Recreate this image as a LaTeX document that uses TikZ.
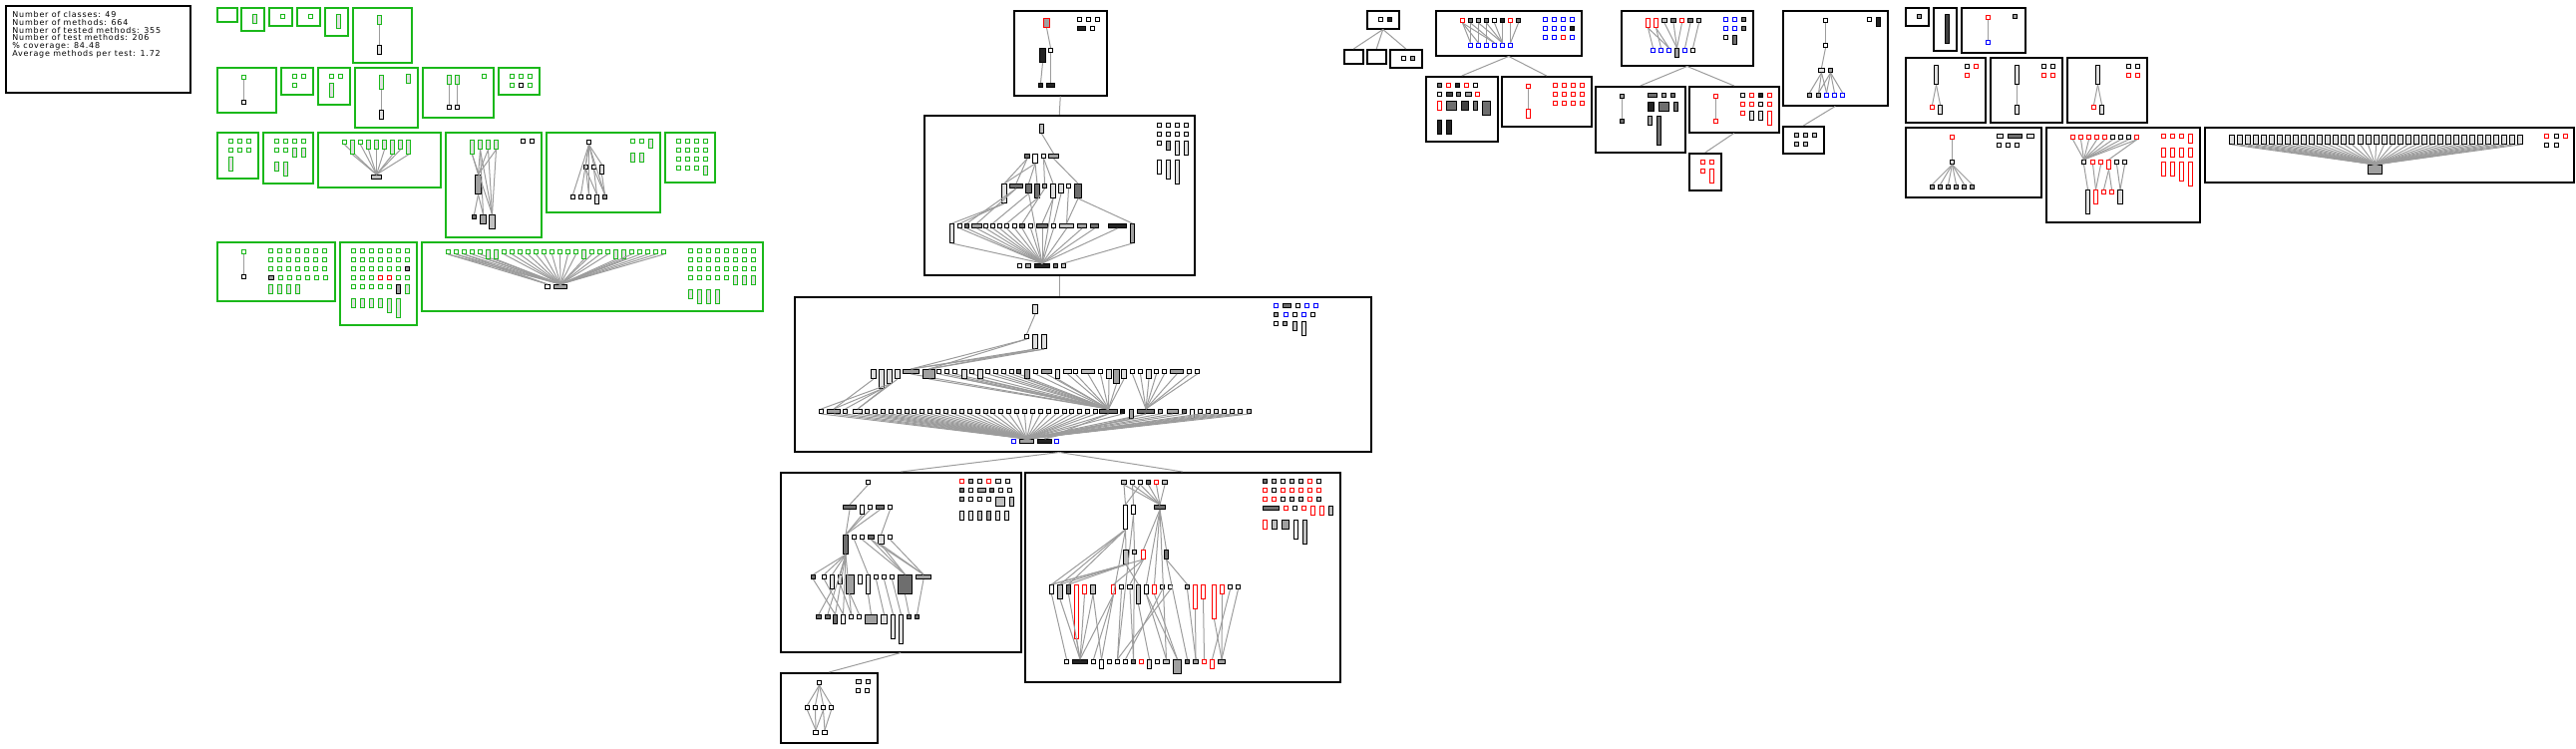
\documentclass[tikz,border=0pt]{standalone}
\usepackage{fontspec}
\newfontfamily\statfont[LetterSpace=10]{DejaVu Sans}
\usetikzlibrary{positioning}
% class fills
\definecolor{cL}{HTML}{E0E0E0}
\definecolor{cG}{HTML}{C0C0C0}
\definecolor{cM}{HTML}{A0A0A0}
\definecolor{cD}{HTML}{6E6E6E}
\definecolor{cN}{HTML}{404040}
\definecolor{cK}{HTML}{232323}
\colorlet{cW}{white}
% borders
\definecolor{bG}{HTML}{1AB81A}
\definecolor{bR}{HTML}{FF0000}
\definecolor{bB}{HTML}{0000FF}
\colorlet{bK}{black}
\definecolor{depGrey}{HTML}{9C9C9C}

\tikzset{
  pkg/.style={draw=black, line width=0.75pt, inner sep=0pt, anchor=north west},
  cls/.style={draw=black, line width=0.5pt, fill=white, inner sep=0pt, anchor=north west},
  gc/.style={draw=bG},
  gl/.style={draw=bG, fill=cL},
  rc/.style={draw=bR},
  bc/.style={draw=bB},
  dep/.style={draw=depGrey, line width=0.5pt},
  stat/.style={anchor=north west, inner sep=0pt, align=left,
    font=\statfont\fontsize{4}{3.9}\selectfont},
}
% package frame: name, x1, y1, x2, y2 (pixels, y down)
\newcommand{\pkgbox}[6][]{\node[pkg,#1,minimum width={(#5-#3)*0.5pt},
  minimum height={(#6-#4)*0.5pt}] (#2) at (#3,#4) {};}
% class box: name, x, y, width, height
\newcommand{\clsbox}[6][]{\node[cls,#1,minimum width={#5*0.5pt},
  minimum height={#6*0.5pt}] (#2) at (#3,#4) {};}
\newcommand{\usedep}[2]{\draw[dep] (#1.south) -- (#2.north);}

\begin{document}
\begin{tikzpicture}[x=0.5pt,y=-0.5pt]
\useasboundingbox (0,0) rectangle (2583,750);

% summary
\pkgbox{stats}{5}{5}{190}{92}
\node[stat] (statlines) at (12,11) {Number of classes: 49\\Number of methods: 664\\
  Number of tested methods: 355\\Number of test methods: 206\\
  \% coverage: 84.48\\Average methods per test: 1.72};

% ---------------- green packages, row 1
\pkgbox[gc]{gA}{217}{7}{237}{21}
\pkgbox[gc]{gB}{241}{7}{264}{30}
\clsbox[gl]{gB1}{253}{14}{4}{9}
\pkgbox[gc]{gC}{269}{7}{292}{25}
\clsbox[gc]{gC1}{281}{14}{4}{4}
\pkgbox[gc]{gD}{297}{7}{320}{25}
\clsbox[gc]{gD1}{309}{14}{4}{4}
\pkgbox[gc]{gE}{325}{7}{348}{35}
\clsbox[gl]{gE1}{337}{14}{4}{14}
\pkgbox[gc]{gF}{353}{7}{412}{62}
\clsbox[gl]{gF1}{378}{15}{4}{9}
\clsbox[fill=cL]{gF2}{378}{45}{4}{9}
\usedep{gF1}{gF2}

% ---------------- green packages, row 2
\pkgbox[gc]{gG}{217}{67}{276}{112}
\clsbox[gc]{gG1}{242}{75}{4}{4}
\clsbox{gG2}{242}{100}{4}{4}
\usedep{gG1}{gG2}
\pkgbox[gc]{gH}{281}{67}{313}{94}
\clsbox[gc]{gH1}{293}{74}{4}{4}
\clsbox[gc]{gH2}{302}{74}{4}{4}
\clsbox[gc]{gH3}{293}{83}{4}{4}
\pkgbox[gc]{gI}{318}{67}{350}{104}
\clsbox[gc]{gI1}{330}{74}{4}{4}
\clsbox[gc]{gI2}{339}{74}{4}{4}
\clsbox[gl]{gI3}{330}{83}{4}{14}
\pkgbox[gc]{gJ}{355}{67}{418}{127}
\clsbox[gl]{gJ1}{380}{75}{4}{14}
\clsbox[fill=cL]{gJ2}{380}{110}{4}{9}
\clsbox[gl]{gJ3}{407}{74}{4}{9}
\usedep{gJ1}{gJ2}
\pkgbox[gc]{gK}{423}{67}{494}{117}
\clsbox[gl]{gK1}{448}{75}{4}{9}
\clsbox[gl]{gK2}{456}{75}{4}{9}
\clsbox{gK3}{448}{105}{4}{4}
\clsbox{gK4}{456}{105}{4}{4}
\clsbox[gc]{gK5}{483}{74}{4}{4}
\usedep{gK1}{gK3} \usedep{gK2}{gK4}
\pkgbox[gc]{gL}{499}{67}{540}{94}
\foreach \x in {511,520,529} {\clsbox[gc]{gLa\x}{\x}{74}{4}{4}}
\clsbox[gc]{gL1}{511}{83}{4}{4}
\clsbox{gL2}{520}{83}{4}{4}
\clsbox[gc]{gL3}{529}{83}{4}{4}

% ---------------- green packages, row 3
\pkgbox[gc]{gM}{217}{132}{258}{178}
\foreach \y in {139,148} \foreach \x in {229,238,247} {\clsbox[gc]{gM\x\y}{\x}{\y}{4}{4}}
\clsbox[gl]{gM1}{229}{157}{4}{14}
\pkgbox[gc]{gN}{263}{132}{313}{183}
\foreach \x in {275,284,293,302} {\clsbox[gc]{gNa\x}{\x}{139}{4}{4}}
\clsbox[gc]{gN1}{275}{148}{4}{4}
\clsbox[gc]{gN2}{284}{148}{4}{4}
\clsbox[gl]{gN3}{293}{148}{4}{9}
\clsbox[gl]{gN4}{302}{148}{4}{9}
\clsbox[gl]{gN5}{275}{162}{4}{9}
\clsbox[gl]{gN6}{284}{162}{4}{14}
\pkgbox[gc]{gO}{318}{132}{441}{187}
\clsbox[fill=cG]{gOb}{372}{175}{10}{4}
\foreach \x/\h/\f [count=\i] in {343/4/cW,351/14/cL,359/4/cW,367/9/cL,375/9/cL,383/9/cL,391/14/cL,399/9/cL,407/14/cL}
  {\clsbox[gc,fill=\f]{gO\i}{\x}{140}{4}{\h} \usedep{gO\i}{gOb}}
\pkgbox[gc]{gP}{446}{132}{542}{237}
\clsbox[gl]{gP1}{471}{140}{4}{14}
\clsbox[gl]{gP2}{479}{140}{4}{9}
\clsbox[gl]{gP3}{487}{140}{4}{9}
\clsbox[gl]{gP4}{495}{140}{4}{9}
\clsbox{gP5}{522}{139}{4}{4}
\clsbox{gP6}{531}{139}{4}{4}
\clsbox[fill=cM]{gPm}{476}{175}{6}{19}
\clsbox[fill=cD]{gPa}{473}{215}{4}{4}
\clsbox[fill=cM]{gPb}{481}{215}{6}{9}
\clsbox[fill=cG]{gPc}{490}{215}{6}{14}
\foreach \t in {gP1,gP2,gP3,gP4} {\usedep{\t}{gPm} \usedep{\t}{gPc}}
\usedep{gP2}{gPb} \usedep{gPm}{gPa} \usedep{gPm}{gPb}
\pkgbox[gc]{gQ}{547}{132}{661}{212}
\clsbox{gQt}{588}{140}{4}{4}
\clsbox[fill=cL]{gQ1}{585}{165}{4}{4}
\clsbox[fill=cL]{gQ2}{593}{165}{4}{4}
\clsbox[fill=cL]{gQ3}{601}{165}{4}{9}
\clsbox[fill=cL]{gQa}{572}{195}{4}{4}
\clsbox[fill=cL]{gQb}{580}{195}{4}{4}
\clsbox[fill=cL]{gQc}{588}{195}{4}{4}
\clsbox[fill=cL]{gQd}{596}{195}{4}{9}
\clsbox[fill=cM]{gQe}{604}{195}{4}{4}
\foreach \t in {gQ1,gQ2,gQ3,gQa,gQb,gQc,gQe} {\usedep{gQt}{\t}}
\usedep{gQ1}{gQc} \usedep{gQ1}{gQd} \usedep{gQ2}{gQd} \usedep{gQ2}{gQe} \usedep{gQ3}{gQe}
\clsbox[gc]{gQ4}{632}{139}{4}{4}
\clsbox[gc]{gQ5}{641}{139}{4}{4}
\clsbox[gl]{gQ6}{650}{139}{4}{9}
\clsbox[gl]{gQ7}{632}{153}{4}{9}
\clsbox[gl]{gQ8}{641}{153}{4}{9}
\pkgbox[gc]{gR}{666}{132}{716}{182}
\foreach \y in {139,148,157} \foreach \x in {678,687,696,705} {\clsbox[gc]{gR\x\y}{\x}{\y}{4}{4}}
\foreach \x in {678,687,696} {\clsbox[gc]{gRa\x}{\x}{166}{4}{4}}
\clsbox[gl]{gR1}{705}{166}{4}{9}

% ---------------- green packages, row 4
\pkgbox[gc]{gS}{217}{242}{335}{301}
\clsbox[gc]{gS1}{242}{250}{4}{4}
\clsbox{gS2}{242}{275}{4}{4}
\usedep{gS1}{gS2}
\foreach \y in {249,258,267} \foreach \x in {269,278,...,323} {\clsbox[gc]{gS\x\y}{\x}{\y}{4}{4}}
\clsbox[fill=cM]{gS3}{269}{276}{5}{4}
\foreach \x in {279,288,...,324} {\clsbox[gc]{gSa\x}{\x}{276}{4}{4}}
\foreach \x in {269,278,287,296} {\clsbox[gl]{gSt\x}{\x}{285}{4}{9}}
\pkgbox[gc]{gT}{340}{242}{417}{325}
\foreach \y in {249,258} \foreach \x in {352,361,...,406} {\clsbox[gc]{gT\x\y}{\x}{\y}{4}{4}}
\foreach \x in {352,361,...,397} {\clsbox[gc]{gTc\x}{\x}{267}{4}{4}}
\clsbox[fill=cM]{gT1}{406}{267}{4}{4}
\foreach \x/\d in {352/bG,361/bG,370/bG,379/bR,388/bR,397/bG,406/bG} {\clsbox[draw=\d]{gTd\x}{\x}{276}{4}{4}}
\foreach \x in {352,361,...,388} {\clsbox[gc]{gTe\x}{\x}{285}{4}{4}}
\clsbox[fill=cM]{gT2}{397}{285}{4}{9}
\clsbox[gl]{gT3}{406}{285}{4}{9}
\foreach \x/\h in {352/9,361/9,370/9,379/9,388/14,397/19} {\clsbox[gl]{gTf\x}{\x}{299}{4}{\h}}
\pkgbox[gc]{gU}{422}{242}{764}{311}
\clsbox{gUa}{546}{285}{5}{4}
\clsbox[fill=cM]{gUb}{555}{285}{13}{4}
\foreach \h/\f [count=\i] in {4/cW,4/cW,4/cW,4/cW,4/cW,9/cL,9/cL,4/cW,4/cW,4/cW,4/cW,4/cW,4/cW,4/cW,4/cW,4/cW,4/cW,9/cL,4/cW,4/cW,4/cW,9/cL,9/cL,4/cW,4/cW,4/cW,4/cW,4/cW}
  {\pgfmathsetmacro\ux{439+8*\i}
   \clsbox[gc,fill=\f]{gU\i}{\ux}{250}{4}{\h}
   \usedep{gU\i}{gUb}}
\foreach \t in {gU1,gU2,gU3} {\usedep{\t}{gUa}}
\foreach \y in {249,258,267} \foreach \x in {690,699,...,753} {\clsbox[gc]{gU\x\y}{\x}{\y}{4}{4}}
\foreach \x in {690,699,...,726} {\clsbox[gc]{gUc\x}{\x}{276}{4}{4}}
\foreach \x in {735,744,753} {\clsbox[gl]{gUd\x}{\x}{276}{4}{9}}
\clsbox[gl]{gU30}{690}{290}{4}{9}
\foreach \x in {699,708,717} {\clsbox[gl]{gUe\x}{\x}{290}{4}{14}}

% ---------------- central chain
\pkgbox{c1}{1016}{10}{1109}{95}
\clsbox[rc,fill=cM]{c1a}{1046}{18}{6}{9}
\clsbox[fill=cK]{c1b}{1042}{48}{6}{14}
\clsbox{c1c}{1051}{48}{4}{4}
\clsbox[fill=cK]{c1d}{1041}{83}{4}{4}
\clsbox[fill=cK]{c1e}{1049}{83}{8}{4}
\usedep{c1a}{c1c} \usedep{c1b}{c1d} \usedep{c1c}{c1e}
\foreach \x in {1080,1089,1098} {\clsbox{c1s\x}{\x}{17}{4}{4}}
\clsbox[fill=cK]{c1f}{1080}{26}{8}{4}
\clsbox{c1g}{1093}{26}{4}{4}

\pkgbox{c2}{926}{115}{1197}{275}
\usedep{c1}{c2}
\clsbox[fill=cG]{c2t}{1042}{124}{4}{9}
\clsbox[fill=cD]{c2a}{1027}{154}{5}{4}
\clsbox{c2b}{1035}{154}{5}{9}
\clsbox{c2c}{1044}{154}{4}{4}
\clsbox[fill=cM]{c2d}{1051}{154}{10}{4}
\usedep{c2t}{c2d}
\foreach \x/\w/\h/\f [count=\i] in {1004/5/19/cL,1012/13/4/cD,1028/6/9/cD,1037/5/14/cD,1045/4/4/cM,1053/5/14/cL,1061/5/9/cL,1069/4/4/cW,1077/7/14/cD}
  {\clsbox[fill=\f]{c2m\i}{\x}{184}{\w}{\h}}
\clsbox{c2z1}{1020}{264}{4}{4}
\clsbox[fill=cM]{c2z2}{1028}{264}{5}{4}
\clsbox[fill=cK]{c2z3}{1037}{264}{15}{4}
\clsbox[fill=cD]{c2z4}{1056}{264}{4}{4}
\clsbox[fill=cG]{c2z5}{1064}{264}{4}{4}
\foreach \x/\w/\h/\f [count=\i] in {952/4/19/cL,960/4/4/cW,967/4/4/cD,974/10/4/cM,986/4/4/cW,993/4/4/cL,1000/4/4/cW,1007/4/4/cW,1015/4/4/cW,1022/5/4/cD,1031/4/4/cW,1039/11/4/cD,1054/4/4/cW,1062/14/4/cG,1080/9/4/cM,1093/8/4/cD,1111/18/4/cK,1133/4/19/cM}
  {\clsbox[fill=\f]{c2n\i}{\x}{224}{\w}{\h}
   \ifnum\i<18 \usedep{c2n\i}{c2z3}\fi}
\usedep{c2n18}{c2z5}
\usedep{c2a}{c2m1} \usedep{c2a}{c2m2} \usedep{c2b}{c2m1} \usedep{c2b}{c2m3}
\usedep{c2b}{c2m4} \usedep{c2c}{c2m5} \usedep{c2c}{c2m6} \usedep{c2d}{c2m9}
\usedep{c2m1}{c2n1} \usedep{c2m1}{c2n2} \usedep{c2m2}{c2n3} \usedep{c2m2}{c2n4}
\usedep{c2m3}{c2n6} \usedep{c2m4}{c2n8} \usedep{c2m5}{c2n10} \usedep{c2m6}{c2n12}
\usedep{c2m7}{c2n13} \usedep{c2m8}{c2n14} \usedep{c2m9}{c2n14} \usedep{c2m9}{c2n18}
\usedep{c2m3}{c2z3} \usedep{c2m6}{c2z3}
\foreach \y in {123,132} \foreach \x in {1160,1169,1178,1187} {\clsbox{c2g\x\y}{\x}{\y}{4}{4}}
\clsbox{c2g1}{1160}{141}{4}{4}
\clsbox[fill=cM]{c2g2}{1169}{141}{4}{9}
\clsbox[fill=cL]{c2g3}{1178}{141}{4}{14}
\clsbox[fill=cL]{c2g4}{1187}{141}{4}{14}
\clsbox{c2g5}{1160}{160}{4}{14}
\clsbox[fill=cL]{c2g6}{1169}{160}{4}{19}
\clsbox[fill=cL]{c2g7}{1178}{160}{4}{24}

\pkgbox{c3}{796}{297}{1374}{452}
\draw[dep] (c2.south) -- (c2.south |- c3.north);
\coordinate (c3out) at (c2.south |- c3.south);
\clsbox[fill=cL]{c3t}{1035}{305}{5}{9}
\clsbox{c3p}{1027}{335}{4}{4}
\clsbox[fill=cL]{c3q}{1035}{335}{5}{14}
\clsbox[fill=cL]{c3r}{1044}{335}{5}{14}
\usedep{c3t}{c3p}
\clsbox[bc]{c3z1}{1014}{440}{4}{4}
\clsbox[fill=cM]{c3z2}{1022}{440}{14}{4}
\clsbox[fill=cK]{c3z3}{1040}{440}{14}{4}
\clsbox[bc]{c3z4}{1057}{440}{4}{4}
\clsbox[fill=cD]{c3w1}{1102}{410}{18}{4}
\clsbox[fill=cD]{c3w2}{1140}{410}{17}{4}
\usedep{c3w1}{c3z3} \usedep{c3w2}{c3z3} \usedep{c3w1}{c3z2} \usedep{c3w2}{c3z2}
\foreach \x/\w/\h/\f [count=\i] in {873/5/9/cL,881/5/19/cL,889/5/14/cL,897/5/9/cL,905/16/4/cM,925/12/9/cM,939/4/4/cW,947/4/4/cW,955/4/4/cW,964/5/9/cL,972/4/4/cW,980/5/9/cL,988/4/4/cW,996/4/4/cW,1004/4/4/cW,1012/4/4/cW,1019/4/4/cD,1027/5/9/cM,1036/4/4/cW,1044/10/4/cM,1058/4/9/cL,1066/8/4/cL,1076/4/4/cW,1084/13/4/cG,1101/4/4/cW,1109/5/9/cL,1116/6/14/cM,1124/5/9/cL,1133/4/4/cW,1141/4/4/cW,1149/5/9/cL,1157/4/4/cW,1165/4/4/cW,1173/13/4/cM,1190/4/4/cW,1198/4/4/cW}
  {\clsbox[fill=\f]{c3m\i}{\x}{370}{\w}{\h}
   \ifnum\i>4 \ifnum\i<29 \usedep{c3m\i}{c3w1}\else \usedep{c3m\i}{c3w2}\fi\fi}
\foreach \t in {c3p,c3q,c3r} {\usedep{\t}{c3m5} \usedep{\t}{c3m6}}
\foreach \x/\w/\h/\f [count=\i] in {821/4/4/cW,829/13/4/cM,845/4/4/cL,855/9/4/cL,1123/4/4/cK,1132/4/9/cM,1161/4/4/cM,1170/11/4/cM,1185/4/4/cD,1193/4/9/cW,1201/4/4/cL,1209/4/4/cL,1217/4/4/cL,1225/4/4/cL,1233/4/4/cL,1241/4/4/cL,1250/4/4/cG}
  {\clsbox[fill=\f]{c3n\i}{\x}{410}{\w}{\h} \usedep{c3n\i}{c3z2}}
\foreach \k in {0,...,29}
  {\pgfmathsetmacro\ux{867+7.9*\k}
   \clsbox[fill=cL]{c3s\k}{\ux}{410}{4}{4} \usedep{c3s\k}{c3z2}}
\usedep{c3m1}{c3n2} \usedep{c3m2}{c3n2} \usedep{c3m2}{c3n3} \usedep{c3m3}{c3n4}
\usedep{c3m4}{c3n4} \usedep{c3m3}{c3n1}
\clsbox[bc]{c3g1}{1277}{304}{4}{4}
\clsbox[fill=cD]{c3g2}{1286}{304}{8}{4}
\clsbox{c3g3}{1299}{304}{4}{4}
\clsbox[bc]{c3g4}{1308}{304}{4}{4}
\clsbox[bc]{c3g5}{1317}{304}{4}{4}
\clsbox[fill=cM]{c3g6}{1277}{313}{4}{4}
\clsbox[bc]{c3g7}{1287}{313}{4}{4}
\clsbox{c3g8}{1296}{313}{4}{4}
\clsbox[bc]{c3g9}{1305}{313}{4}{4}
\clsbox{c3g10}{1314}{313}{4}{4}
\clsbox{c3g11}{1277}{322}{4}{4}
\clsbox[fill=cM]{c3g12}{1286}{322}{4}{4}
\clsbox[fill=cG]{c3g13}{1296}{322}{4}{9}
\clsbox[fill=cL]{c3g14}{1305}{322}{4}{14}

% ---------------- lower left chain
\pkgbox{c4}{782}{473}{1023}{653}
\draw[dep] (c3out) -- (c4.north);
\clsbox{c4t}{868}{481}{4}{4}
\clsbox[fill=cD]{c4a}{845}{506}{13}{4}
\clsbox{c4b}{862}{506}{4}{9}
\clsbox{c4c}{870}{506}{4}{4}
\clsbox[fill=cD]{c4d}{878}{506}{8}{4}
\clsbox{c4e}{890}{506}{4}{4}
\clsbox[fill=cD]{c4f}{845}{536}{5}{19}
\clsbox{c4g}{854}{536}{4}{4}
\clsbox{c4h}{862}{536}{4}{4}
\clsbox[fill=cD]{c4i}{870}{536}{6}{4}
\clsbox[fill=cL]{c4j}{880}{536}{6}{9}
\clsbox{c4k}{890}{536}{4}{4}
\usedep{c4t}{c4a}
\foreach \t in {c4a,c4b,c4c,c4d} {\usedep{\t}{c4f}}
\usedep{c4e}{c4j}
\foreach \x/\w/\h/\f [count=\i] in {813/4/4/cD,824/4/4/cW,832/4/14/cL,840/4/9/cL,848/8/19/cM,860/4/9/cW,868/4/19/cL,876/4/4/cW,884/4/4/cW,892/4/4/cW,900/14/19/cD,918/15/4/cM}
  {\clsbox[fill=\f]{c4r\i}{\x}{576}{\w}{\h}}
\foreach \x/\w/\h/\f [count=\i] in {818/5/4/cD,827/5/4/cD,835/4/9/cD,843/4/9/cW,851/4/4/cW,859/4/4/cW,867/12/9/cM,883/6/9/cL,893/4/24/cL,901/4/29/cL,909/4/4/cD,917/4/4/cD}
  {\clsbox[fill=\f]{c4s\i}{\x}{616}{\w}{\h}}
\foreach \t in {c4r1,c4r2,c4r3,c4r4,c4s2,c4s3,c4s4,c4s5} {\usedep{c4f}{\t}}
\usedep{c4g}{c4r7} \usedep{c4h}{c4r11} \usedep{c4i}{c4r11} \usedep{c4i}{c4r12}
\usedep{c4j}{c4r11} \usedep{c4j}{c4r12} \usedep{c4k}{c4r12}
\usedep{c4r1}{c4s3} \usedep{c4r2}{c4s4} \usedep{c4r3}{c4s1} \usedep{c4r4}{c4s5}
\usedep{c4r5}{c4s6} \usedep{c4r7}{c4s7} \usedep{c4r8}{c4s8} \usedep{c4r9}{c4s9}
\usedep{c4r10}{c4s10} \usedep{c4r11}{c4s11} \usedep{c4r12}{c4s12}
\foreach \x/\w/\d/\f [count=\i] in {962/4/bR/cW,971/4/bK/cM,980/4/bK/cW,989/4/bR/cW,998/5/bK/cL,1008/4/bK/cL}
  {\clsbox[draw=\d,fill=\f]{c4u\i}{\x}{480}{\w}{4}}
\foreach \x/\w/\f [count=\i] in {962/4/cD,971/4/cW,980/8/cM,992/4/cD,1001/4/cW,1010/4/cW}
  {\clsbox[fill=\f]{c4v\i}{\x}{489}{\w}{4}}
\foreach \x/\w/\h/\f [count=\i] in {962/4/4/cM,971/4/4/cW,980/4/4/cW,989/4/4/cW,998/9/9/cG,1012/4/9/cG}
  {\clsbox[fill=\f]{c4w\i}{\x}{498}{\w}{\h}}
\foreach \x/\f [count=\i] in {962/cL,971/cL,980/cG,989/cM,998/cL,1007/cL}
  {\clsbox[fill=\f]{c4x\i}{\x}{512}{4}{9}}

\pkgbox{c6}{782}{674}{879}{744}
\usedep{c4}{c6}
\clsbox{c6t}{819}{682}{4}{4}
\foreach \x [count=\i] in {807,815,823,831} {\clsbox{c6m\i}{\x}{707}{4}{4} \usedep{c6t}{c6m\i}}
\clsbox{c6z1}{815}{732}{5}{4}
\clsbox{c6z2}{824}{732}{5}{4}
\usedep{c6m1}{c6z1} \usedep{c6m2}{c6z1} \usedep{c6m3}{c6z1} \usedep{c6m3}{c6z2} \usedep{c6m4}{c6z2}
\clsbox[fill=cL]{c6a}{858}{681}{5}{4}
\clsbox[fill=cL]{c6b}{868}{681}{4}{4}
\clsbox{c6c}{858}{690}{4}{4}
\clsbox{c6d}{867}{690}{4}{4}

% ---------------- lower right package
\pkgbox{c5}{1027}{473}{1343}{683}
\draw[dep] (c3out) -- (c5.north);
\foreach \x/\w/\d/\f [count=\i] in {1124/5/bK/cG,1133/4/bK/cW,1141/4/bK/cW,1149/4/bK/cD,1157/4/bR/cW,1165/5/bK/cG}
  {\clsbox[draw=\d,fill=\f]{c5t\i}{\x}{481}{\w}{4}}
\clsbox{c5a}{1126}{506}{4}{24}
\clsbox{c5b}{1134}{506}{4}{9}
\clsbox[fill=cD]{c5c}{1157}{506}{11}{4}
\clsbox[fill=cG]{c5d}{1126}{551}{5}{14}
\clsbox[fill=cG]{c5e}{1135}{551}{4}{4}
\clsbox[rc]{c5f}{1144}{551}{4}{9}
\clsbox[fill=cD]{c5g}{1167}{551}{4}{9}
\foreach \x/\w/\h/\d/\f [count=\i] in {1052/4/9/bK/cW,1060/5/14/bK/cG,1069/4/9/bK/cD,1077/4/54/bR/cW,1085/4/9/bR/cW,1093/5/9/bK/cG,1114/4/9/bR/cW,1122/4/4/bK/cW,1130/5/4/bK/cW,1139/4/19/bK/cG,1147/4/9/bK/cW,1155/4/9/bR/cW,1163/4/4/bK/cW,1171/4/4/bK/cW,1188/4/4/bK/cG,1196/4/24/bR/cW,1204/4/14/bR/cW,1215/4/34/bR/cW,1223/4/9/bR/cW,1231/4/4/bK/cW,1239/4/4/bK/cW}
  {\clsbox[draw=\d,fill=\f]{c5r\i}{\x}{586}{\w}{\h}}
\foreach \x/\w/\h/\d/\f [count=\i] in {1067/4/4/bK/cW,1075/15/4/bK/cK,1094/4/4/bK/cW,1102/4/9/bK/cW,1110/4/4/bK/cW,1118/4/4/bK/cW,1126/4/4/bK/cW,1134/4/4/bK/cD,1142/4/4/bR/cW,1150/4/9/bK/cL,1158/4/4/bK/cW,1166/6/4/bK/cG,1176/8/14/bK/cM,1188/4/4/bK/cD,1196/5/4/bK/cM,1205/4/4/bR/cW,1213/4/9/bR/cW,1221/7/4/bK/cM}
  {\clsbox[draw=\d,fill=\f]{c5s\i}{\x}{661}{\w}{\h}}
\foreach \t in {c5t1,c5t2,c5t3,c5t4,c5t5,c5t6} {\usedep{\t}{c5c}}
\usedep{c5t1}{c5a} \usedep{c5t2}{c5b} \usedep{c5t3}{c5a}
\usedep{c5a}{c5d} \usedep{c5b}{c5e} \usedep{c5c}{c5f} \usedep{c5c}{c5g}
\foreach \t in {c5r1,c5r2,c5r3} {\usedep{c5a}{\t}}
\foreach \t in {c5r1,c5r2,c5r3,c5r10} {\usedep{c5d}{\t}}
\foreach \t in {c5r1,c5r7,c5r9} {\usedep{c5f}{\t}}
\usedep{c5c}{c5r11} \usedep{c5c}{c5r12} \usedep{c5c}{c5s12}
\usedep{c5g}{c5r15} \usedep{c5g}{c5s14}
\usedep{c5b}{c5s6} \usedep{c5a}{c5s4} \usedep{c5e}{c5s8}
\foreach \a/\b in {1/1,2/2,3/2,4/2,5/2,6/4,7/2,7/3,8/6,9/8,10/10,11/12,12/13,13/7,14/6,15/15,16/15,17/16,18/18,19/18,20/17,21/18,6/2,11/13}
  {\usedep{c5r\a}{c5s\b}}
\foreach \x/\d/\f [count=\i] in {1266/bK/cD,1275/bK/cG,1284/bK/cW,1293/bK/cG,1302/bK/cG,1311/bR/cW,1320/bK/cW}
  {\clsbox[draw=\d,fill=\f]{c5u\i}{\x}{480}{4}{4}}
\foreach \x/\d [count=\i] in {1266/bR,1275/bK,1284/bR,1293/bR,1302/bR,1311/bR,1320/bR}
  {\clsbox[draw=\d]{c5v\i}{\x}{489}{4}{4}}
\foreach \x/\d/\f [count=\i] in {1266/bR/cW,1275/bR/cW,1284/bK/cW,1293/bK/cG,1302/bK/cG,1311/bR/cW,1320/bK/cG}
  {\clsbox[draw=\d,fill=\f]{c5w\i}{\x}{498}{4}{4}}
\clsbox[fill=cD]{c5x1}{1266}{507}{16}{4}
\clsbox[rc]{c5x2}{1287}{507}{4}{4}
\clsbox{c5x3}{1296}{507}{4}{4}
\clsbox[rc]{c5x4}{1305}{507}{4}{4}
\clsbox[rc]{c5x5}{1314}{507}{4}{9}
\clsbox[rc]{c5x6}{1323}{507}{4}{9}
\clsbox[fill=cG]{c5x7}{1332}{507}{4}{9}
\clsbox[rc]{c5y1}{1266}{521}{4}{9}
\clsbox[fill=cG]{c5y2}{1275}{521}{5}{9}
\clsbox[fill=cM]{c5y3}{1285}{521}{7}{9}
\clsbox{c5y4}{1297}{521}{4}{19}
\clsbox[fill=cG]{c5y5}{1306}{521}{4}{24}

% ---------------- right-hand packages
\pkgbox{r1}{1370}{10}{1402}{28}
\clsbox{r1a1}{1382}{17}{4}{4}
\clsbox[fill=cK]{r1a2}{1391}{17}{4}{4}
\pkgbox{r1a}{1347}{49}{1366}{63}
\pkgbox{r1b}{1370}{49}{1389}{63}
\pkgbox{r1c}{1393}{49}{1425}{67}
\clsbox{r1c1}{1405}{56}{4}{4}
\clsbox[fill=cM]{r1c2}{1414}{56}{4}{4}
\usedep{r1}{r1a} \usedep{r1}{r1b} \usedep{r1}{r1c}

\pkgbox{r2}{1439}{10}{1585}{55}
\foreach \x/\d/\f [count=\i] in {1464/bR/cW,1472/bK/cD,1480/bK/cM,1488/bK/cD,1496/bK/cW,1504/bK/cK,1512/bR/cW,1520/bK/cD}
  {\clsbox[draw=\d,fill=\f]{r2t\i}{\x}{18}{4}{4}}
\foreach \x [count=\i] in {1472,1480,...,1512} {\clsbox[bc]{r2b\i}{\x}{43}{4}{4}}
\foreach \a/\b in {1/1,1/2,1/4,2/1,2/4,3/2,3/5,4/3,4/5,5/5,6/5,7/6,8/6}
  {\usedep{r2t\a}{r2b\b}}
\foreach \y in {17,26,35} \foreach \x in {1547,1556,1565,1574} {\clsbox[bc]{r2g\x\y}{\x}{\y}{4}{4}}
\clsbox[fill=cK]{r2g1}{1574}{26}{4}{4}
\clsbox[rc]{r2g2}{1565}{35}{4}{4}
\pkgbox{r3}{1429}{76}{1501}{141}
\pkgbox{r4}{1505}{76}{1595}{126}
\usedep{r2}{r3} \usedep{r2}{r4}
\foreach \x/\d/\f [count=\i] in {1441/bK/cD,1450/bR/cW,1459/bK/cK,1468/bR/cW,1477/bK/cW}
  {\clsbox[draw=\d,fill=\f]{r3a\i}{\x}{83}{4}{4}}
\clsbox{r3b1}{1441}{92}{4}{4}
\clsbox[fill=cN]{r3b2}{1450}{92}{6}{4}
\clsbox[fill=cD]{r3b3}{1460}{92}{4}{4}
\clsbox[fill=cM]{r3b4}{1469}{92}{6}{4}
\clsbox[rc]{r3b5}{1479}{92}{4}{4}
\clsbox[rc]{r3c1}{1441}{101}{4}{9}
\clsbox[fill=cD]{r3c2}{1450}{101}{10}{9}
\clsbox[fill=cN]{r3c3}{1465}{101}{7}{9}
\clsbox[fill=cD]{r3c4}{1477}{101}{4}{9}
\clsbox[fill=cD]{r3c5}{1486}{101}{8}{14}
\clsbox[fill=cK]{r3d1}{1441}{120}{4}{14}
\clsbox[fill=cK]{r3d2}{1450}{120}{5}{14}
\clsbox[rc]{r4a}{1530}{84}{4}{4}
\clsbox[rc]{r4b}{1530}{109}{4}{9}
\usedep{r4a}{r4b}
\foreach \y in {83,92,101} \foreach \x in {1557,1566,1575,1584} {\clsbox[rc]{r4g\x\y}{\x}{\y}{4}{4}}

\pkgbox{r5}{1625}{10}{1757}{65}
\foreach \x/\w/\h/\d/\f [count=\i] in {1650/4/9/bR/cW,1658/4/9/bR/cW,1666/5/4/bK/cG,1675/5/4/bK/cD,1684/4/4/bR/cW,1692/5/4/bK/cD,1701/4/4/bK/cG}
  {\clsbox[draw=\d,fill=\f]{r5t\i}{\x}{18}{\w}{\h}}
\foreach \x/\h/\d/\f [count=\i] in {1655/4/bB/cW,1663/4/bB/cW,1671/4/bB/cW,1679/9/bK/cM,1687/4/bB/cW,1695/4/bK/cW}
  {\clsbox[draw=\d,fill=\f]{r5b\i}{\x}{48}{4}{\h}}
\foreach \a/\b in {1/1,1/3,2/2,2/3,3/4,4/4,5/4,6/5,7/6}
  {\usedep{r5t\a}{r5b\b}}
\clsbox[bc]{r5g1}{1728}{17}{4}{4}
\clsbox[bc]{r5g2}{1737}{17}{4}{4}
\clsbox[fill=cD]{r5g3}{1746}{17}{4}{4}
\clsbox[bc]{r5g4}{1728}{26}{4}{4}
\clsbox[bc]{r5g5}{1737}{26}{4}{4}
\clsbox[fill=cD]{r5g6}{1746}{26}{4}{4}
\clsbox{r5g7}{1728}{35}{4}{4}
\clsbox[fill=cD]{r5g8}{1737}{35}{4}{9}
\pkgbox{r6}{1599}{86}{1689}{152}
\pkgbox{r7}{1693}{86}{1783}{132}
\usedep{r5}{r6} \usedep{r5}{r7}
\clsbox[fill=cM]{r6a}{1624}{94}{4}{4}
\clsbox[fill=cD]{r6b}{1624}{119}{4}{4}
\usedep{r6a}{r6b}
\clsbox[fill=cD]{r6c}{1652}{93}{9}{4}
\clsbox[fill=cM]{r6d}{1666}{93}{4}{4}
\clsbox[fill=cD]{r6e}{1675}{93}{4}{4}
\clsbox[fill=cK]{r6f}{1652}{102}{6}{9}
\clsbox[fill=cD]{r6g}{1663}{102}{10}{9}
\clsbox[fill=cD]{r6h}{1678}{102}{4}{9}
\clsbox[fill=cM]{r6i}{1652}{116}{4}{9}
\clsbox[fill=cD]{r6j}{1661}{116}{4}{29}
\clsbox[rc]{r7a}{1718}{94}{4}{4}
\clsbox[rc]{r7b}{1718}{119}{4}{4}
\usedep{r7a}{r7b}
\foreach \x/\d/\f [count=\i] in {1745/bK/cW,1754/bR/cW,1763/bK/cK,1772/bR/cW}
  {\clsbox[draw=\d,fill=\f]{r7c\i}{\x}{93}{4}{4}}
\foreach \x/\d [count=\i] in {1745/bR,1754/bR,1763/bK,1772/bR}
  {\clsbox[draw=\d]{r7d\i}{\x}{102}{4}{4}}
\clsbox[rc]{r7e1}{1745}{111}{4}{4}
\clsbox[fill=cL]{r7e2}{1754}{111}{4}{9}
\clsbox[fill=cL]{r7e3}{1763}{111}{4}{9}
\clsbox[rc]{r7e4}{1772}{111}{4}{14}
\pkgbox{r8}{1693}{153}{1725}{190}
\usedep{r7}{r8}
\clsbox[rc]{r8a}{1705}{160}{4}{4}
\clsbox[rc]{r8b}{1714}{160}{4}{4}
\clsbox[rc]{r8c}{1705}{169}{4}{4}
\clsbox[rc]{r8d}{1714}{169}{4}{14}

\pkgbox{r9}{1787}{10}{1892}{105}
\clsbox{r9a}{1828}{18}{4}{4}
\clsbox{r9b}{1828}{43}{4}{4}
\clsbox[fill=cL]{r9c}{1823}{68}{6}{4}
\clsbox[fill=cM]{r9d}{1833}{68}{4}{4}
\usedep{r9a}{r9b} \usedep{r9b}{r9c}
\foreach \x/\d/\f [count=\i] in {1812/bK/cM,1821/bK/cM,1829/bB/cW,1837/bB/cW,1845/bB/cW}
  {\clsbox[draw=\d,fill=\f]{r9e\i}{\x}{93}{4}{4}}
\foreach \t in {r9e1,r9e2,r9e3} {\usedep{r9c}{\t}}
\foreach \t in {r9e2,r9e3,r9e4,r9e5} {\usedep{r9d}{\t}}
\clsbox{r9f}{1872}{17}{4}{4}
\clsbox[fill=cK]{r9g}{1881}{17}{4}{9}
\pkgbox{r10}{1787}{126}{1828}{153}
\usedep{r9}{r10}
\foreach \x/\y in {1799/133,1808/133,1817/133,1799/142,1808/142} {\clsbox[fill=cG]{r10\x\y}{\x}{\y}{4}{4}}

% ---------------- far right packages
\pkgbox{f1}{1910}{7}{1933}{25}
\clsbox[fill=cM]{f1a}{1922}{14}{4}{4}
\pkgbox{f2}{1938}{7}{1961}{50}
\clsbox[fill=cN]{f2a}{1950}{14}{4}{29}
\pkgbox{f3}{1966}{7}{2030}{52}
\clsbox[rc]{f3a}{1991}{15}{4}{4}
\clsbox[bc]{f3b}{1991}{40}{4}{4}
\usedep{f3a}{f3b}
\clsbox[fill=cM]{f3c}{2018}{14}{4}{4}
\pkgbox{f4}{1910}{57}{1990}{122}
\clsbox[fill=cL]{f4a}{1939}{65}{4}{19}
\clsbox[rc]{f4b}{1935}{105}{4}{4}
\clsbox[fill=cL]{f4c}{1943}{105}{4}{9}
\usedep{f4a}{f4b} \usedep{f4a}{f4c}
\clsbox{f4d}{1970}{64}{4}{4}
\clsbox[rc]{f4e}{1979}{64}{4}{4}
\clsbox[rc]{f4f}{1970}{73}{4}{4}
\pkgbox{f5}{1995}{57}{2067}{122}
\clsbox[fill=cL]{f5a}{2020}{65}{4}{19}
\clsbox[fill=cL]{f5b}{2020}{105}{4}{9}
\usedep{f5a}{f5b}
\clsbox{f5c}{2047}{64}{4}{4}
\clsbox{f5d}{2056}{64}{4}{4}
\clsbox[rc]{f5e}{2047}{73}{4}{4}
\clsbox[rc]{f5f}{2056}{73}{4}{4}
\pkgbox{f6}{2072}{57}{2152}{122}
\clsbox[fill=cL]{f6a}{2101}{65}{4}{19}
\clsbox[rc]{f6b}{2097}{105}{4}{4}
\clsbox[fill=cL]{f6c}{2105}{105}{4}{9}
\usedep{f6a}{f6b} \usedep{f6a}{f6c}
\clsbox{f6d}{2132}{64}{4}{4}
\clsbox{f6e}{2141}{64}{4}{4}
\clsbox[rc]{f6f}{2132}{73}{4}{4}
\clsbox[rc]{f6g}{2141}{73}{4}{4}
\pkgbox{f7}{1910}{127}{2046}{197}
\clsbox[rc]{f7a}{1955}{135}{4}{4}
\clsbox[fill=cL]{f7b}{1955}{160}{4}{4}
\usedep{f7a}{f7b}
\foreach \x [count=\i] in {1935,1943,...,1975} {\clsbox[fill=cM]{f7c\i}{\x}{185}{4}{4} \usedep{f7b}{f7c\i}}
\clsbox[fill=cL]{f7d}{2002}{134}{6}{4}
\clsbox[fill=cD]{f7e}{2013}{134}{14}{4}
\clsbox[fill=cL]{f7f}{2032}{134}{7}{4}
\foreach \x in {2002,2011,2020} {\clsbox{f7g\x}{\x}{143}{4}{4}}
\pkgbox{f8}{2051}{127}{2205}{222}
\foreach \x/\d [count=\i] in {2076/bR,2084/bR,2092/bR,2100/bR,2108/bR,2116/bK,2124/bK,2132/bK,2140/bR}
  {\clsbox[draw=\d]{f8t\i}{\x}{135}{4}{4}}
\clsbox[fill=cL]{f8m1}{2087}{160}{4}{4}
\clsbox[rc]{f8m2}{2096}{160}{4}{4}
\clsbox[rc]{f8m3}{2104}{160}{4}{4}
\clsbox[rc]{f8m4}{2112}{160}{4}{9}
\clsbox{f8m5}{2120}{160}{4}{4}
\clsbox{f8m6}{2128}{160}{4}{4}
\foreach \i in {1,...,9} {\usedep{f8t\i}{f8m1}}
\usedep{f8t9}{f8m4}
\clsbox[fill=cL]{f8b1}{2091}{190}{4}{24}
\clsbox[rc]{f8b2}{2099}{190}{4}{14}
\clsbox[rc]{f8b3}{2107}{190}{4}{4}
\clsbox[rc]{f8b4}{2115}{190}{4}{4}
\clsbox[fill=cL]{f8b5}{2123}{190}{5}{14}
\foreach \a/\b in {1/1,2/2,3/2,4/3,4/4,5/5,6/5}
  {\usedep{f8m\a}{f8b\b}}
\foreach \x in {2167,2176,2185} {\clsbox[rc]{f8g\x}{\x}{134}{4}{4}}
\clsbox[rc]{f8g1}{2194}{134}{4}{9}
\foreach \x in {2167,2176,2185,2194} {\clsbox[rc]{f8h\x}{\x}{148}{4}{9}}
\foreach \x/\h in {2167/14,2176/14,2185/19,2194/24} {\clsbox[rc]{f8k\x}{\x}{162}{4}{\h}}
\pkgbox{f9}{2210}{127}{2580}{182}
\clsbox[fill=cM]{f9b}{2374}{165}{14}{9}
\foreach \i in {0,...,36}
  {\pgfmathsetmacro\ux{2235+8.03*\i}
   \clsbox[fill=cL]{f9t\i}{\ux}{135}{5}{9}
   \usedep{f9t\i}{f9b}}
\clsbox[rc]{f9c}{2551}{134}{4}{4}
\clsbox{f9d}{2561}{134}{4}{4}
\clsbox[rc]{f9e}{2570}{134}{4}{4}
\clsbox{f9f}{2551}{143}{4}{4}
\clsbox{f9g}{2561}{143}{4}{4}
\end{tikzpicture}
\end{document}
